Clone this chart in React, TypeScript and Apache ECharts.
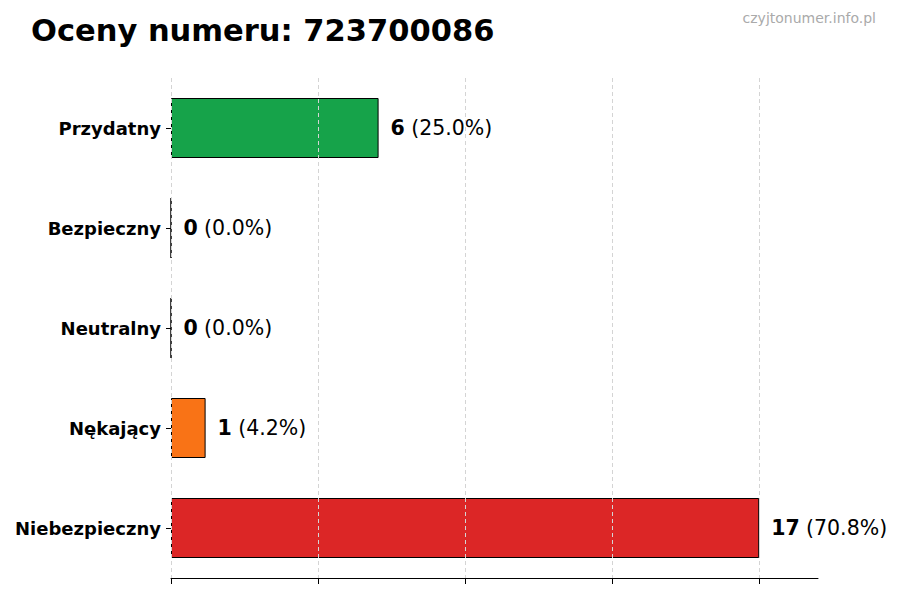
import { useEffect, useRef } from 'react';
import * as echarts from 'echarts';

const categories = ['Przydatny', 'Bezpieczny', 'Neutralny', 'Nękający', 'Niebezpieczny'];
const counts = [6, 0, 0, 1, 17];
const barColors = ['#16a34a', '#16a34a', '#9ca3af', '#f97316', '#dc2626'];
const tickValues = [0, 4.25, 8.5, 12.75, 17];

const total = counts.reduce((a, b) => a + b, 0);

export default function App() {
  const chartRef = useRef<HTMLDivElement>(null);

  useEffect(() => {
    document.body.style.margin = '0';
    if (!chartRef.current) return;
    const chart = echarts.init(chartRef.current, undefined, { renderer: 'svg' });

    const font = "'DejaVu Sans', sans-serif";

    chart.setOption({
      animation: false,
      backgroundColor: '#ffffff',
      title: [
        {
          text: 'Oceny numeru: 723700086',
          left: 26,
          top: 10,
          textStyle: { fontFamily: font, fontSize: 30.5, fontWeight: 'bold', color: '#000' }
        },
        {
          text: 'czyjtonumer.info.pl',
          right: 19,
          top: 6,
          textStyle: { fontFamily: font, fontSize: 14, fontWeight: 'normal', color: '#aaaaaa' }
        }
      ],
      grid: { left: 171, right: 82, top: 78, bottom: 22, containLabel: false },
      xAxis: {
        type: 'value',
        min: 0,
        max: 18.7,
        interval: 4.25,
        axisLine: { show: true, lineStyle: { color: '#000', width: 1 } },
        axisTick: { show: true, length: 6, customValues: tickValues, lineStyle: { color: '#000' } },
        axisLabel: { show: false },
        splitLine: { show: false }
      },
      yAxis: {
        type: 'category',
        data: categories,
        inverse: true,
        axisLine: { show: false },
        axisTick: { show: true, alignWithLabel: true, length: 5, lineStyle: { color: '#000' } },
        axisLabel: {
          margin: 10,
          fontFamily: font,
          fontSize: 18,
          fontWeight: 'bold',
          color: '#000'
        }
      },
      series: [
        {
          type: 'bar',
          barWidth: 60,
          data: counts.map((v, i) => ({
            value: v,
            itemStyle: { color: barColors[i], borderColor: '#000', borderWidth: 1 }
          })),
          label: {
            show: true,
            position: 'right',
            distance: 12,
            formatter: (p: any) =>
              `{b|${p.value}} {n|(${((p.value / total) * 100).toFixed(1)}%)}`,
            rich: {
              b: { fontFamily: font, fontSize: 20.5, fontWeight: 'bold', color: '#000' },
              n: {
                fontFamily: font,
                fontSize: 20.5,
                fontWeight: 'normal',
                color: '#000',
                padding: [0, 0, 0, 3]
              }
            }
          },
          markLine: {
            silent: true,
            symbol: 'none',
            label: { show: false },
            lineStyle: { type: [4, 3], color: '#d4d4d4', width: 1 },
            data: tickValues.map((v) => ({ xAxis: v }))
          }
        }
      ]
    });

    return () => {
      chart.dispose();
    };
  }, []);

  return <div ref={chartRef} style={{ width: '900px', height: '600px' }} />;
}
